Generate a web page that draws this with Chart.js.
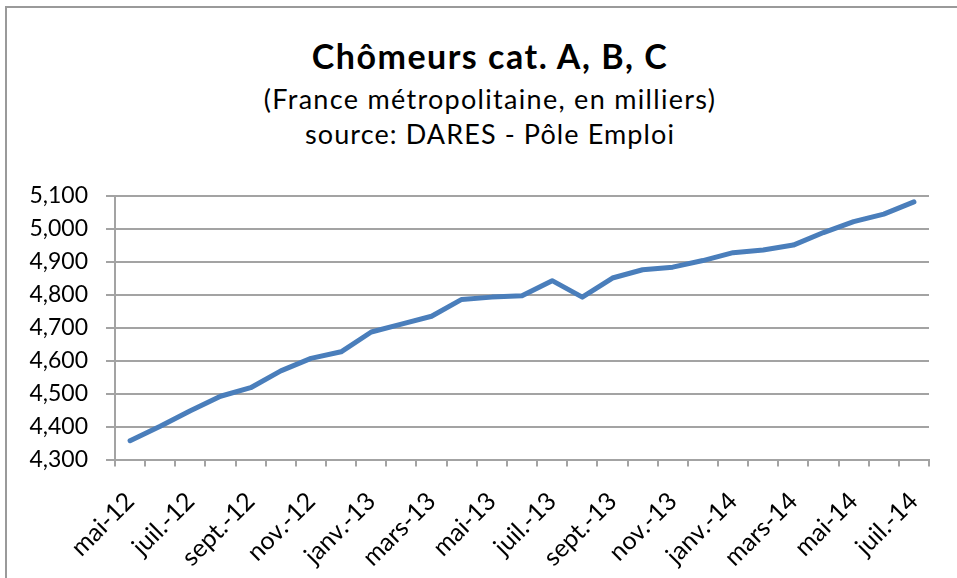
<!DOCTYPE html>
<html>
<head>
<meta charset="utf-8">
<script src="https://cdn.jsdelivr.net/npm/chart.js@4"></script>
<style>
  html, body { margin: 0; padding: 0; background: #fff; }
  body { width: 957px; height: 578px; position: relative; overflow: hidden; font-family: Lato, sans-serif; color: #000; }
  #frame { position: absolute; left: 5px; top: 6px; width: 1000px; height: 1000px; border: 2px solid #9a9a9a; }
  .t { position: absolute; left: 0; width: 980px; text-align: center; line-height: 1.2; white-space: nowrap; }
  #title { top: 36px; font-size: 34px; font-weight: bold; letter-spacing: 1.5px; }
  #sub1 { top: 83px; font-size: 27px; letter-spacing: 1.3px; }
  #sub2 { top: 118px; font-size: 27px; letter-spacing: 1.1px; }
  #wrap { position: absolute; left: 0; top: 0; width: 957px; height: 578px; }
</style>
</head>
<body>
<div id="frame"></div>
<div class="t" id="title">Chômeurs cat. A, B, C</div>
<div class="t" id="sub1">(France métropolitaine, en milliers)</div>
<div class="t" id="sub2">source: DARES - Pôle Emploi</div>
<div id="wrap"><canvas id="chart"></canvas></div>
<script>
// monthly, mai 2012 -> juillet 2014
const months = [
  'mai-12', 'juin-12', 'juil.-12', 'août-12', 'sept.-12', 'oct.-12', 'nov.-12', 'déc.-12',
  'janv.-13', 'févr.-13', 'mars-13', 'avr.-13', 'mai-13', 'juin-13', 'juil.-13', 'août-13',
  'sept.-13', 'oct.-13', 'nov.-13', 'déc.-13',
  'janv.-14', 'févr.-14', 'mars-14', 'avr.-14', 'mai-14', 'juin-14', 'juil.-14'
];
// chômeurs cat. A, B, C (milliers)
const chomeurs = [
  4357, 4401, 4448, 4492, 4518, 4569, 4607, 4627,
  4687, 4711, 4735, 4786, 4793, 4797, 4843, 4793,
  4851, 4876, 4884, 4904,
  4928, 4936, 4951, 4989, 5022, 5045, 5082
];
const yMin = 4300;
const yMax = 5100;
const yStep = 100;

const gridColor = '#a3a3a3';

new Chart(document.getElementById('chart'), {
  type: 'line',
  data: {
    labels: months,
    datasets: [{
      data: chomeurs,
      borderColor: '#4a7ebb',
      borderWidth: 5,
      borderCapStyle: 'round',
      borderJoinStyle: 'round',
      pointRadius: 0,
      tension: 0,
      fill: false
    }]
  },
  options: {
    responsive: true,
    maintainAspectRatio: false,
    animation: false,
    layout: { padding: { left: 15, right: 28, top: 196, bottom: 0 } },
    plugins: {
      legend: { display: false },
      tooltip: { enabled: false }
    },
    scales: {
      x: {
        offset: true,
        afterFit(scale) { scale.height = 118.5; },
        grid: {
          offset: true,
          drawOnChartArea: false,
          drawTicks: true,
          tickLength: 7,
          color: gridColor,
          lineWidth: 2
        },
        border: { color: gridColor, width: 2 },
        ticks: {
          autoSkip: false,
          minRotation: 45,
          maxRotation: 45,
          padding: 20,
          color: '#000',
          font: { family: 'Lato', size: 25 },
          callback(val, i) { return i % 2 === 0 ? this.getLabelForValue(val) : ''; }
        }
      },
      y: {
        min: yMin,
        max: yMax,
        afterFit(scale) { scale.width = 100; },
        grid: {
          color: gridColor,
          lineWidth: 2,
          tickLength: 9
        },
        border: { color: gridColor, width: 2 },
        ticks: {
          stepSize: yStep,
          padding: 18,
          color: '#000',
          font: { family: 'Lato', size: 23 },
          callback(v) { return v.toLocaleString('en-US'); }
        }
      }
    }
  }
});
</script>
</body>
</html>
